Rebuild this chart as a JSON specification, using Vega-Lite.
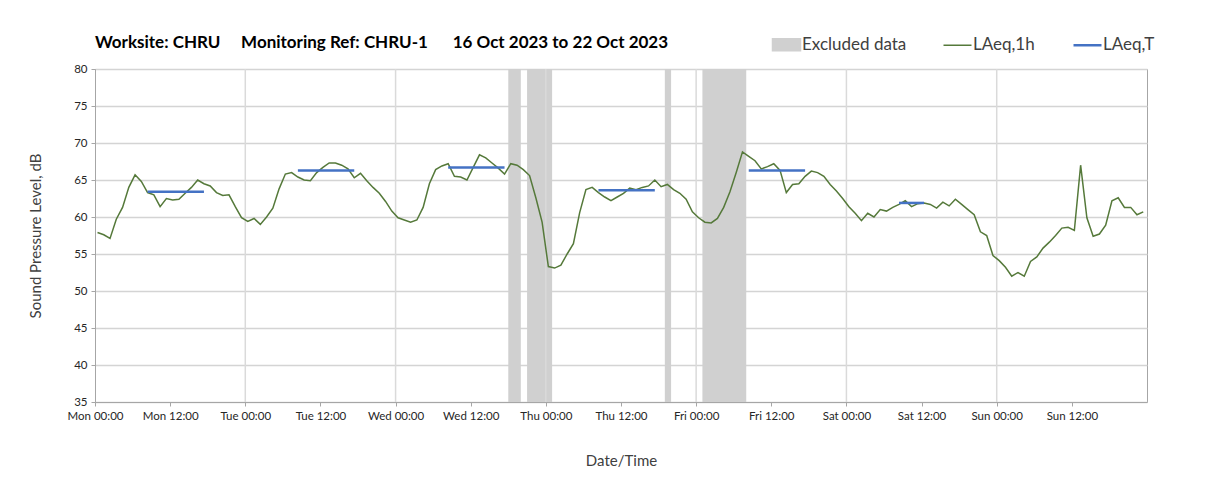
{
  "$schema": "https://vega.github.io/schema/vega-lite/v6.json",
  "width": 1052,
  "height": 333,
  "autosize": {"type": "none"},
  "padding": {"left": 95, "top": 69, "right": 61, "bottom": 92},
  "background": "white",
  "config": {
    "font": "Lato",
    "view": {"stroke": "#a6a6a6", "strokeWidth": 1},
    "axis": {
      "labelFontSize": 11.5,
      "labelColor": "#262626",
      "titleFontSize": 15,
      "titleFontWeight": "normal",
      "titleColor": "#404040",
      "domainColor": "#a6a6a6",
      "tickColor": "#a6a6a6",
      "tickSize": 4
    },
    "axisY": {
      "values": [35, 40, 45, 50, 55, 60, 65, 70, 75, 80],
      "tickCount": 10,
      "labelOverlap": false,
      "grid": true,
      "gridColor": "#d4d4d4",
      "gridWidth": 1.5,
      "labelPadding": 4,
      "titlePadding": 30
    }
  },
  "title": {
    "text": "Worksite: CHRU\u00a0\u00a0\u00a0\u00a0 Monitoring Ref: CHRU-1\u00a0\u00a0\u00a0\u00a0\u00a0 16 Oct 2023 to 22 Oct 2023",
    "anchor": "start",
    "frame": "group",
    "fontSize": 17,
    "fontWeight": "bold",
    "color": "#000000",
    "offset": 20,
    "dy": 36
  },
  "datasets": {
    "days": [
      {"t": "2023-10-17T00:00"}, {"t": "2023-10-18T00:00"}, {"t": "2023-10-19T00:00"},
      {"t": "2023-10-20T00:00"}, {"t": "2023-10-21T00:00"}, {"t": "2023-10-22T00:00"}
    ],
    "excl": [
      {"start": "2023-10-18T18:00", "end": "2023-10-18T20:00", "lo": 35, "hi": 80},
      {"start": "2023-10-18T21:00", "end": "2023-10-19T01:00", "lo": 35, "hi": 80},
      {"start": "2023-10-19T19:00", "end": "2023-10-19T20:00", "lo": 35, "hi": 80},
      {"start": "2023-10-20T01:00", "end": "2023-10-20T08:00", "lo": 35, "hi": 80}
    ],
    "period": [
      {"start": "2023-10-16T08:24", "end": "2023-10-16T17:24", "v": 63.4},
      {"start": "2023-10-17T08:24", "end": "2023-10-17T17:24", "v": 66.3},
      {"start": "2023-10-18T08:24", "end": "2023-10-18T17:24", "v": 66.7},
      {"start": "2023-10-19T08:24", "end": "2023-10-19T17:24", "v": 63.6},
      {"start": "2023-10-20T08:24", "end": "2023-10-20T17:24", "v": 66.3},
      {"start": "2023-10-21T08:24", "end": "2023-10-21T12:24", "v": 61.9}
    ],
    "hourly": [
      {"t": "2023-10-16T00:24", "v": 57.9}, {"t": "2023-10-16T01:24", "v": 57.6}, {"t": "2023-10-16T02:24", "v": 57.1}, {"t": "2023-10-16T03:24", "v": 59.7},
      {"t": "2023-10-16T04:24", "v": 61.3}, {"t": "2023-10-16T05:24", "v": 64.0}, {"t": "2023-10-16T06:24", "v": 65.7}, {"t": "2023-10-16T07:24", "v": 64.8},
      {"t": "2023-10-16T08:24", "v": 63.3}, {"t": "2023-10-16T09:24", "v": 63.0}, {"t": "2023-10-16T10:24", "v": 61.4}, {"t": "2023-10-16T11:24", "v": 62.5},
      {"t": "2023-10-16T12:24", "v": 62.3}, {"t": "2023-10-16T13:24", "v": 62.4}, {"t": "2023-10-16T14:24", "v": 63.2}, {"t": "2023-10-16T15:24", "v": 64.0},
      {"t": "2023-10-16T16:24", "v": 65.0}, {"t": "2023-10-16T17:24", "v": 64.5}, {"t": "2023-10-16T18:24", "v": 64.2}, {"t": "2023-10-16T19:24", "v": 63.3},
      {"t": "2023-10-16T20:24", "v": 62.9}, {"t": "2023-10-16T21:24", "v": 63.0}, {"t": "2023-10-16T22:24", "v": 61.4}, {"t": "2023-10-16T23:24", "v": 59.9},
      {"t": "2023-10-17T00:24", "v": 59.4}, {"t": "2023-10-17T01:24", "v": 59.8}, {"t": "2023-10-17T02:24", "v": 59.0}, {"t": "2023-10-17T03:24", "v": 60.0},
      {"t": "2023-10-17T04:24", "v": 61.2}, {"t": "2023-10-17T05:24", "v": 63.8}, {"t": "2023-10-17T06:24", "v": 65.8}, {"t": "2023-10-17T07:24", "v": 66.0},
      {"t": "2023-10-17T08:24", "v": 65.4}, {"t": "2023-10-17T09:24", "v": 65.0}, {"t": "2023-10-17T10:24", "v": 64.9}, {"t": "2023-10-17T11:24", "v": 66.0},
      {"t": "2023-10-17T12:24", "v": 66.7}, {"t": "2023-10-17T13:24", "v": 67.3}, {"t": "2023-10-17T14:24", "v": 67.3}, {"t": "2023-10-17T15:24", "v": 67.0},
      {"t": "2023-10-17T16:24", "v": 66.5}, {"t": "2023-10-17T17:24", "v": 65.3}, {"t": "2023-10-17T18:24", "v": 65.9}, {"t": "2023-10-17T19:24", "v": 64.9},
      {"t": "2023-10-17T20:24", "v": 64.0}, {"t": "2023-10-17T21:24", "v": 63.2}, {"t": "2023-10-17T22:24", "v": 62.1}, {"t": "2023-10-17T23:24", "v": 60.8},
      {"t": "2023-10-18T00:24", "v": 59.9}, {"t": "2023-10-18T01:24", "v": 59.6}, {"t": "2023-10-18T02:24", "v": 59.3}, {"t": "2023-10-18T03:24", "v": 59.6},
      {"t": "2023-10-18T04:24", "v": 61.3}, {"t": "2023-10-18T05:24", "v": 64.5}, {"t": "2023-10-18T06:24", "v": 66.4}, {"t": "2023-10-18T07:24", "v": 66.9},
      {"t": "2023-10-18T08:24", "v": 67.2}, {"t": "2023-10-18T09:24", "v": 65.5}, {"t": "2023-10-18T10:24", "v": 65.4}, {"t": "2023-10-18T11:24", "v": 65.0},
      {"t": "2023-10-18T12:24", "v": 66.7}, {"t": "2023-10-18T13:24", "v": 68.4}, {"t": "2023-10-18T14:24", "v": 68.0}, {"t": "2023-10-18T15:24", "v": 67.3},
      {"t": "2023-10-18T16:24", "v": 66.6}, {"t": "2023-10-18T17:24", "v": 65.8}, {"t": "2023-10-18T18:24", "v": 67.2}, {"t": "2023-10-18T19:24", "v": 67.0},
      {"t": "2023-10-18T20:24", "v": 66.4}, {"t": "2023-10-18T21:24", "v": 65.6}, {"t": "2023-10-18T22:24", "v": 62.6}, {"t": "2023-10-18T23:24", "v": 59.3},
      {"t": "2023-10-19T00:24", "v": 53.3}, {"t": "2023-10-19T01:24", "v": 53.1}, {"t": "2023-10-19T02:24", "v": 53.5}, {"t": "2023-10-19T03:24", "v": 55.0},
      {"t": "2023-10-19T04:24", "v": 56.4}, {"t": "2023-10-19T05:24", "v": 60.6}, {"t": "2023-10-19T06:24", "v": 63.7}, {"t": "2023-10-19T07:24", "v": 64.0},
      {"t": "2023-10-19T08:24", "v": 63.3}, {"t": "2023-10-19T09:24", "v": 62.7}, {"t": "2023-10-19T10:24", "v": 62.2}, {"t": "2023-10-19T11:24", "v": 62.7},
      {"t": "2023-10-19T12:24", "v": 63.2}, {"t": "2023-10-19T13:24", "v": 63.9}, {"t": "2023-10-19T14:24", "v": 63.7}, {"t": "2023-10-19T15:24", "v": 64.0},
      {"t": "2023-10-19T16:24", "v": 64.2}, {"t": "2023-10-19T17:24", "v": 65.0}, {"t": "2023-10-19T18:24", "v": 64.1}, {"t": "2023-10-19T19:24", "v": 64.4},
      {"t": "2023-10-19T20:24", "v": 63.7}, {"t": "2023-10-19T21:24", "v": 63.2}, {"t": "2023-10-19T22:24", "v": 62.4}, {"t": "2023-10-19T23:24", "v": 60.7},
      {"t": "2023-10-20T00:24", "v": 59.9}, {"t": "2023-10-20T01:24", "v": 59.3}, {"t": "2023-10-20T02:24", "v": 59.2}, {"t": "2023-10-20T03:24", "v": 59.8},
      {"t": "2023-10-20T04:24", "v": 61.3}, {"t": "2023-10-20T05:24", "v": 63.4}, {"t": "2023-10-20T06:24", "v": 66.0}, {"t": "2023-10-20T07:24", "v": 68.8},
      {"t": "2023-10-20T08:24", "v": 68.2}, {"t": "2023-10-20T09:24", "v": 67.6}, {"t": "2023-10-20T10:24", "v": 66.5}, {"t": "2023-10-20T11:24", "v": 66.8},
      {"t": "2023-10-20T12:24", "v": 67.2}, {"t": "2023-10-20T13:24", "v": 66.3}, {"t": "2023-10-20T14:24", "v": 63.3}, {"t": "2023-10-20T15:24", "v": 64.4},
      {"t": "2023-10-20T16:24", "v": 64.5}, {"t": "2023-10-20T17:24", "v": 65.5}, {"t": "2023-10-20T18:24", "v": 66.2}, {"t": "2023-10-20T19:24", "v": 66.0},
      {"t": "2023-10-20T20:24", "v": 65.5}, {"t": "2023-10-20T21:24", "v": 64.4}, {"t": "2023-10-20T22:24", "v": 63.5}, {"t": "2023-10-20T23:24", "v": 62.5},
      {"t": "2023-10-21T00:24", "v": 61.4}, {"t": "2023-10-21T01:24", "v": 60.5}, {"t": "2023-10-21T02:24", "v": 59.5}, {"t": "2023-10-21T03:24", "v": 60.5},
      {"t": "2023-10-21T04:24", "v": 60.0}, {"t": "2023-10-21T05:24", "v": 61.0}, {"t": "2023-10-21T06:24", "v": 60.8}, {"t": "2023-10-21T07:24", "v": 61.3},
      {"t": "2023-10-21T08:24", "v": 61.7}, {"t": "2023-10-21T09:24", "v": 62.2}, {"t": "2023-10-21T10:24", "v": 61.4}, {"t": "2023-10-21T11:24", "v": 61.8},
      {"t": "2023-10-21T12:24", "v": 61.9}, {"t": "2023-10-21T13:24", "v": 61.7}, {"t": "2023-10-21T14:24", "v": 61.2}, {"t": "2023-10-21T15:24", "v": 62.0},
      {"t": "2023-10-21T16:24", "v": 61.5}, {"t": "2023-10-21T17:24", "v": 62.4}, {"t": "2023-10-21T18:24", "v": 61.7}, {"t": "2023-10-21T19:24", "v": 61.0},
      {"t": "2023-10-21T20:24", "v": 60.3}, {"t": "2023-10-21T21:24", "v": 58.0}, {"t": "2023-10-21T22:24", "v": 57.5}, {"t": "2023-10-21T23:24", "v": 54.8},
      {"t": "2023-10-22T00:24", "v": 54.1}, {"t": "2023-10-22T01:24", "v": 53.2}, {"t": "2023-10-22T02:24", "v": 52.0}, {"t": "2023-10-22T03:24", "v": 52.5},
      {"t": "2023-10-22T04:24", "v": 52.0}, {"t": "2023-10-22T05:24", "v": 54.0}, {"t": "2023-10-22T06:24", "v": 54.6}, {"t": "2023-10-22T07:24", "v": 55.8},
      {"t": "2023-10-22T08:24", "v": 56.6}, {"t": "2023-10-22T09:24", "v": 57.5}, {"t": "2023-10-22T10:24", "v": 58.5}, {"t": "2023-10-22T11:24", "v": 58.6},
      {"t": "2023-10-22T12:24", "v": 58.2}, {"t": "2023-10-22T13:24", "v": 67.0}, {"t": "2023-10-22T14:24", "v": 59.9}, {"t": "2023-10-22T15:24", "v": 57.4},
      {"t": "2023-10-22T16:24", "v": 57.7}, {"t": "2023-10-22T17:24", "v": 58.9}, {"t": "2023-10-22T18:24", "v": 62.2}, {"t": "2023-10-22T19:24", "v": 62.6},
      {"t": "2023-10-22T20:24", "v": 61.3}, {"t": "2023-10-22T21:24", "v": 61.3}, {"t": "2023-10-22T22:24", "v": 60.3}, {"t": "2023-10-22T23:24", "v": 60.7}
    ]
  },
  "layer": [
    {
      "data": {"name": "excl"},
      "mark": {"type": "rect"},
      "encoding": {
        "x": {
          "field": "start",
          "type": "temporal",
          "title": "Date/Time",
          "scale": {"domain": [{"year": 2023, "month": 10, "date": 16}, {"year": 2023, "month": 10, "date": 23}]},
          "axis": {
            "format": "%a %H:%M",
            "values": [
              {"year": 2023, "month": 10, "date": 16, "hours": 0}, {"year": 2023, "month": 10, "date": 16, "hours": 12},
              {"year": 2023, "month": 10, "date": 17, "hours": 0}, {"year": 2023, "month": 10, "date": 17, "hours": 12},
              {"year": 2023, "month": 10, "date": 18, "hours": 0}, {"year": 2023, "month": 10, "date": 18, "hours": 12},
              {"year": 2023, "month": 10, "date": 19, "hours": 0}, {"year": 2023, "month": 10, "date": 19, "hours": 12},
              {"year": 2023, "month": 10, "date": 20, "hours": 0}, {"year": 2023, "month": 10, "date": 20, "hours": 12},
              {"year": 2023, "month": 10, "date": 21, "hours": 0}, {"year": 2023, "month": 10, "date": 21, "hours": 12},
              {"year": 2023, "month": 10, "date": 22, "hours": 0}, {"year": 2023, "month": 10, "date": 22, "hours": 12}
            ],
            "labelFlush": false,
            "labelOverlap": false,
            "labelPadding": 4,
            "grid": false,
            "titlePadding": 32
          }
        },
        "x2": {"field": "end"},
        "y": {
          "field": "lo",
          "type": "quantitative",
          "title": "Sound Pressure Level, dB",
          "scale": {"domain": [35, 80], "nice": false, "zero": false},
          "axis": {"values": [35, 40, 45, 50, 55, 60, 65, 70, 75, 80], "labelOverlap": false}
        },
        "y2": {"field": "hi"},
        "color": {
          "datum": "Excluded data",
          "scale": {"domain": ["Excluded data", "LAeq,1h", "LAeq,T"], "range": ["#d0d0d0", "#55793a", "#4472c4"]},
          "legend": {
            "title": null,
            "orient": "none",
            "direction": "horizontal",
            "legendX": 683,
            "legendY": -33,
            "padding": 0,
            "labelFontSize": 17,
            "labelColor": "#404040",
            "labelOffset": 7,
            "columnPadding": 33,
            "symbolSize": 784,
            "encode": {
              "symbols": {
                "update": {
                  "shape": {"signal": "datum.value === 'Excluded data' ? 'M-1,-0.43H1V0.43H-1Z' : 'M-1,0H1'"},
                  "fill": {"signal": "datum.value === 'Excluded data' ? '#d0d0d0' : 'transparent'"},
                  "stroke": {"signal": "datum.value === 'Excluded data' ? 'transparent' : (datum.value === 'LAeq,1h' ? '#55793a' : '#4472c4')"},
                  "strokeWidth": {"signal": "datum.value === 'LAeq,T' ? 2.5 : 1.5"}
                }
              }
            }
          }
        }
      }
    },
    {
      "data": {"name": "days"},
      "mark": {"type": "rule", "color": "#dadada", "strokeWidth": 1.5},
      "encoding": {
        "x": {"field": "t", "type": "temporal"}
      }
    },
    {
      "data": {"name": "hourly"},
      "mark": {"type": "line", "strokeWidth": 1.5},
      "encoding": {
        "x": {"field": "t", "type": "temporal"},
        "y": {
          "field": "v",
          "type": "quantitative",
          "axis": {"values": [35, 40, 45, 50, 55, 60, 65, 70, 75, 80], "labelOverlap": false}
        },
        "color": {"datum": "LAeq,1h"}
      }
    },
    {
      "data": {"name": "period"},
      "mark": {"type": "rule", "strokeWidth": 2.5},
      "encoding": {
        "x": {"field": "start", "type": "temporal"},
        "x2": {"field": "end"},
        "y": {"field": "v", "type": "quantitative"},
        "color": {"datum": "LAeq,T"}
      }
    }
  ]
}
